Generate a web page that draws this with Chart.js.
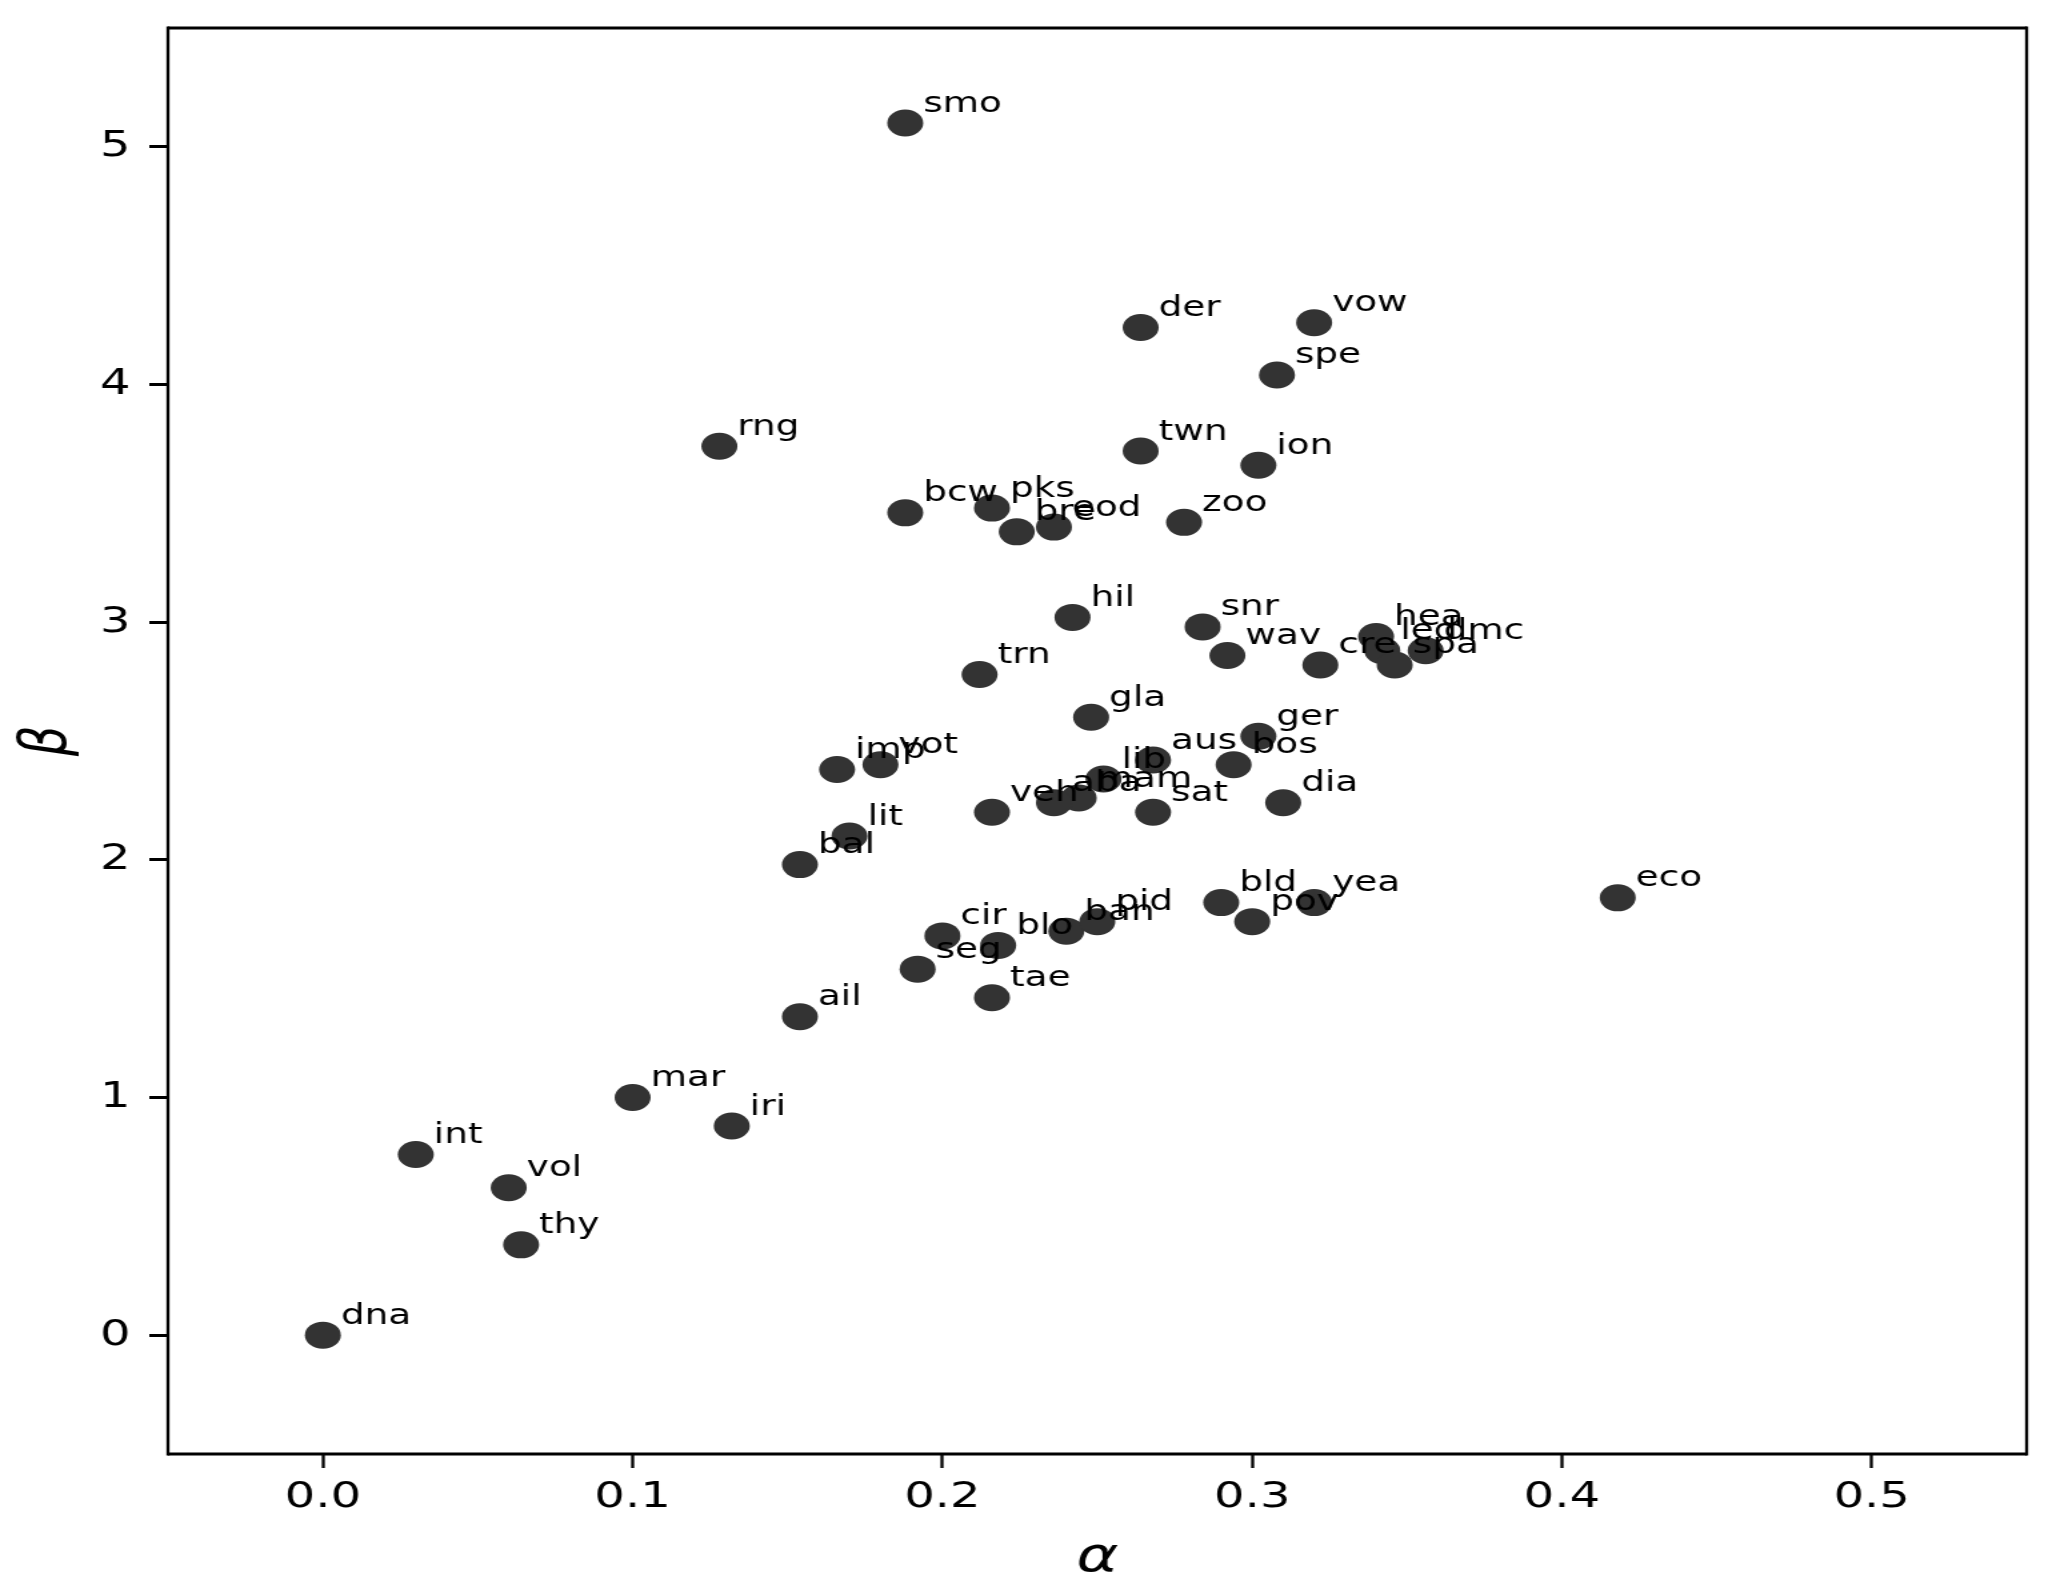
<!DOCTYPE html>
<html>
<head>
<meta charset="utf-8">
<script src="https://cdn.jsdelivr.net/npm/chart.js@4.4.1/dist/chart.umd.min.js"></script>
<style>
  html, body { margin: 0; padding: 0; background: #fff; overflow: hidden; }
  /* the reference is stretched sideways, so draw narrow and widen */
  #wrap { width: 1542px; height: 1593px; transform: scaleX(1.33333); transform-origin: 0 0; }
</style>
</head>
<body>
<div id="wrap"><canvas id="alphaBetaGraph"></canvas></div>
<script>
const pointNames = [
    'smo', 'der', 'vow', 'spe', 'rng', 'twn', 'ion', 'bcw', 'pks', 'bre',
    'eod', 'zoo', 'hil', 'snr', 'wav', 'cre', 'hea', 'led', 'spa', 'dmc',
    'trn', 'gla', 'ger', 'aus', 'bos', 'lib', 'mam', 'aba', 'veh', 'sat',
    'dia', 'imp', 'vot', 'lit', 'bal', 'cir', 'blo', 'seg', 'ban', 'pid',
    'tae', 'bld', 'pov', 'yea', 'eco', 'ail', 'mar', 'iri', 'int', 'vol',
    'thy', 'dna'
]

const alphaValues = [
    0.188, 0.264, 0.320, 0.308, 0.128, 0.264, 0.302, 0.188, 0.216, 0.224,
    0.236, 0.278, 0.242, 0.284, 0.292, 0.322, 0.340, 0.342, 0.346, 0.356,
    0.212, 0.248, 0.302, 0.268, 0.294, 0.252, 0.244, 0.236, 0.216, 0.268,
    0.310, 0.166, 0.180, 0.170, 0.154, 0.200, 0.218, 0.192, 0.240, 0.250,
    0.216, 0.290, 0.300, 0.320, 0.418, 0.154, 0.100, 0.132, 0.030, 0.060,
    0.064, 0.000
]

const betaValues = [
    5.10, 4.24, 4.26, 4.04, 3.74, 3.72, 3.66, 3.46, 3.48, 3.38,
    3.40, 3.42, 3.02, 2.98, 2.86, 2.82, 2.94, 2.88, 2.82, 2.88,
    2.78, 2.60, 2.52, 2.42, 2.40, 2.34, 2.26, 2.24, 2.20, 2.20,
    2.24, 2.38, 2.40, 2.10, 1.98, 1.68, 1.64, 1.54, 1.70, 1.74,
    1.42, 1.82, 1.74, 1.82, 1.84, 1.34, 1.00, 0.88, 0.76, 0.62,
    0.38, 0.00
]

const xTickValues = [0.0, 0.1, 0.2, 0.3, 0.4, 0.5]
const yTickValues = [0, 1, 2, 3, 4, 5]

const pointColor = '#333333'
const fontFamily = "'DejaVu Sans', 'Noto Sans', sans-serif"

const points = alphaValues.map((a, i) => ({ x: a, y: betaValues[i] }))

// names next to each point
const pointLabels = {
    id: 'pointLabels',
    afterDatasetsDraw(chart) {
        const ctx = chart.ctx
        const meta = chart.getDatasetMeta(0)
        ctx.save()
        ctx.font = '28px ' + fontFamily
        ctx.fillStyle = '#000'
        ctx.textAlign = 'left'
        ctx.textBaseline = 'alphabetic'
        meta.data.forEach((pt, i) => {
            ctx.fillText(pointNames[i], pt.x + 13.5, pt.y - 11.5)
        })
        ctx.restore()
    }
}

// box round the plot
const frameBox = {
    id: 'frameBox',
    afterDraw(chart) {
        const { left, top, right, bottom } = chart.chartArea
        const ctx = chart.ctx
        ctx.save()
        ctx.strokeStyle = '#000'
        ctx.lineWidth = 3
        ctx.beginPath()
        ctx.moveTo(left, top); ctx.lineTo(right, top)
        ctx.moveTo(left, bottom); ctx.lineTo(right, bottom)
        ctx.stroke()
        ctx.lineWidth = 2.3
        ctx.beginPath()
        ctx.moveTo(left, top - 1.5); ctx.lineTo(left, bottom + 1.5)
        ctx.moveTo(right, top - 1.5); ctx.lineTo(right, bottom + 1.5)
        ctx.stroke()
        ctx.restore()
    }
}

const ctx = document.getElementById('alphaBetaGraph')
new Chart(ctx, {
    type: 'scatter',
    data: {
        datasets: [{
            data: points,
            backgroundColor: pointColor,
            borderWidth: 0,
            pointRadius: 13.5,
            pointHoverRadius: 13.5
        }]
    },
    options: {
        responsive: true,
        maintainAspectRatio: false,
        animation: false,
        layout: { padding: { left: 0, top: 28, right: 22, bottom: 0 } },
        plugins: { legend: { display: false }, tooltip: { enabled: false } },
        scales: {
            x: {
                type: 'linear',
                min: -0.05,
                max: 0.55,
                afterBuildTicks: scale => { scale.ticks = xTickValues.map(v => ({ value: v })) },
                afterFit: scale => {
                    scale.height = 139
                    scale.paddingLeft = 0
                    scale.paddingRight = 0
                },
                border: { display: false },
                grid: { display: true, drawOnChartArea: false, drawTicks: true, tickLength: 14, tickWidth: 2.3, tickColor: '#000' },
                ticks: {
                    color: '#000',
                    font: { family: fontFamily, size: 36 },
                    padding: 8,
                    maxRotation: 0,
                    autoSkip: false,
                    callback: v => v.toFixed(1)
                },
                title: {
                    display: true,
                    text: 'α',
                    color: '#000',
                    font: { family: fontFamily, size: 48, style: 'italic' },
                    padding: { top: 0, bottom: 6 }
                }
            },
            y: {
                type: 'linear',
                min: -0.5,
                max: 5.5,
                afterBuildTicks: scale => { scale.ticks = yTickValues.map(v => ({ value: v })) },
                afterFit: scale => {
                    scale.width = 126
                    scale.paddingTop = 0
                    scale.paddingBottom = 0
                },
                border: { display: false },
                grid: { display: true, drawOnChartArea: false, drawTicks: true, tickLength: 14, tickWidth: 3, tickColor: '#000' },
                ticks: {
                    color: '#000',
                    font: { family: fontFamily, size: 36 },
                    padding: 14,
                    autoSkip: false,
                    callback: v => String(v)
                },
                title: {
                    display: true,
                    text: 'β',
                    color: '#000',
                    font: { family: fontFamily, size: 48, style: 'italic' },
                    padding: { top: 8, bottom: 0 }
                }
            }
        }
    },
    plugins: [pointLabels, frameBox]
})
</script>
</body>
</html>
